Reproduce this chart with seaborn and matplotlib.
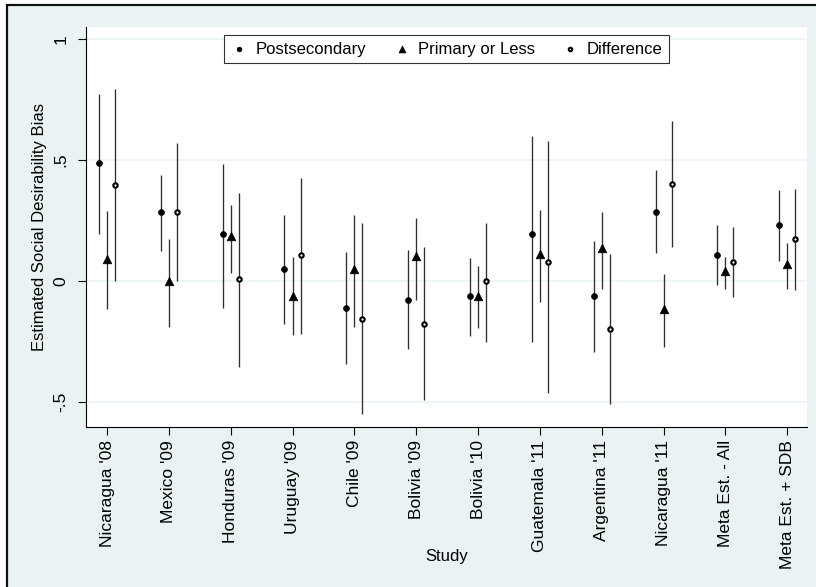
import numpy as np
import pandas as pd
import matplotlib
matplotlib.use("Agg")
import matplotlib.pyplot as plt
from matplotlib.patches import Rectangle
import seaborn as sns

studies = ["Nicaragua '08", "Mexico '09", "Honduras '09", "Uruguay '09", "Chile '09",
           "Bolivia '09", "Bolivia '10", "Guatemala '11", "Argentina '11",
           "Nicaragua '11", "Meta Est. - All", "Meta Est. + SDB"]

post_est = [0.488, 0.285, 0.193, 0.048, -0.110, -0.077, -0.063, 0.193, -0.063, 0.285, 0.106, 0.231]
post_lo = [0.195, 0.123, -0.110, -0.179, -0.344, -0.282, -0.229, -0.253, -0.293, 0.117, -0.018, 0.084]
post_hi = [0.774, 0.439, 0.483, 0.274, 0.120, 0.127, 0.094, 0.598, 0.165, 0.457, 0.231, 0.375]

prim_est = [0.090, 0.000, 0.185, -0.061, 0.048, 0.102, -0.061, 0.113, 0.135, -0.114, 0.040, 0.070]
prim_lo = [-0.114, -0.189, 0.034, -0.222, -0.189, -0.077, -0.195, -0.088, -0.032, -0.274, -0.034, -0.032]
prim_hi = [0.288, 0.174, 0.314, 0.098, 0.274, 0.259, 0.061, 0.295, 0.284, 0.029, 0.100, 0.158]

diff_est = [0.398, 0.285, 0.010, 0.107, -0.156, -0.178, 0.000, 0.079, -0.198, 0.402, 0.079, 0.172]
diff_lo = [0.000, 0.001, -0.353, -0.218, -0.551, -0.492, -0.251, -0.461, -0.510, 0.142, -0.067, -0.038]
diff_hi = [0.792, 0.569, 0.364, 0.428, 0.241, 0.140, 0.241, 0.580, 0.112, 0.661, 0.223, 0.379]

series_names = ["Postsecondary", "Primary or Less", "Difference"]

BG = "#EAF2F3"
plt.rcParams["font.family"] = ["Liberation Sans", "DejaVu Sans"]

W, H = 816, 587
fig = plt.figure(figsize=(W / 100, H / 100), dpi=100, facecolor="white")

# graph region: light bluish panel with a dark rule on its top and left sides
panel = Rectangle((7 / W, -0.05), 1.2, 1.05 - 4.5 / H, transform=fig.transFigure,
                  facecolor=BG, edgecolor="#111111", linewidth=1.6, zorder=-5)
fig.add_artist(panel)

ax = fig.add_axes([86 / W, 1 - 427 / H, (807 - 86) / W, (427 - 27) / H])
ax.set_facecolor("white")

pos = np.arange(1, len(studies) + 1)
offsets = [-0.13, 0.0, 0.13]

frames = []
for name, est, lo, hi, off in zip(series_names,
                                  [post_est, prim_est, diff_est],
                                  [post_lo, prim_lo, diff_lo],
                                  [post_hi, prim_hi, diff_hi],
                                  offsets):
    frames.append(pd.DataFrame({"study": studies, "x": pos + off, "est": est,
                                "lo": lo, "hi": hi, "series": name}))
df = pd.concat(frames, ignore_index=True)

# confidence intervals
ax.vlines(df["x"], df["lo"], df["hi"], color="#2f2f2f", linewidth=0.95, zorder=2)

styles = {
    "Postsecondary": dict(marker="o", s=18, color="black", edgecolor="black", linewidth=0.5),
    "Primary or Less": dict(marker="^", s=38, color="black", edgecolor="black", linewidth=0.5),
    "Difference": dict(marker="o", s=10, color="white", edgecolor="black", linewidth=1.5),
}
for name in series_names:
    sub = df[df["series"] == name]
    sns.scatterplot(data=sub, x="x", y="est", ax=ax, label=name, zorder=3, **styles[name])

ax.set_xlim(0.66, 12.32)
ax.set_ylim(-0.603, 1.05)

ax.set_yticks([-0.5, 0, 0.5, 1])
ax.set_yticklabels(["-.5", "0", ".5", "1"], rotation=90, va="center")
ax.set_xticks(pos)
ax.set_xticklabels(studies, rotation=90, ha="center", va="top")
ax.tick_params(axis="both", labelsize=12.5, colors="black", length=5.5, width=0.8)
ax.tick_params(axis="y", pad=7)
ax.tick_params(axis="x", pad=4)

ax.grid(axis="y", color=BG, linewidth=1.2, zorder=0)
ax.grid(axis="x", visible=False)
ax.set_axisbelow(True)

for side in ["top", "right"]:
    ax.spines[side].set_visible(False)
for side in ["left", "bottom"]:
    ax.spines[side].set_color("black")
    ax.spines[side].set_linewidth(0.8)

ax.set_xlabel("Study", fontsize=12)
ax.set_ylabel("Estimated Social Desirability Bias", fontsize=12)
ax.xaxis.set_label_coords(0.5, -0.325)
ax.xaxis.label.set_va("center")
ax.yaxis.set_label_coords(-0.064, 0.5)
ax.yaxis.label.set_va("center")

leg = ax.legend(loc="upper center", ncol=3, fontsize=12, frameon=True, fancybox=False,
                framealpha=1, edgecolor="#333333", handlelength=1.0, handletextpad=0.45,
                columnspacing=1.65, borderpad=0.4, borderaxespad=0.48, markerscale=0.8)
leg.get_frame().set_linewidth(0.8)

fig.savefig("out.png", dpi=100, facecolor=fig.get_facecolor())
